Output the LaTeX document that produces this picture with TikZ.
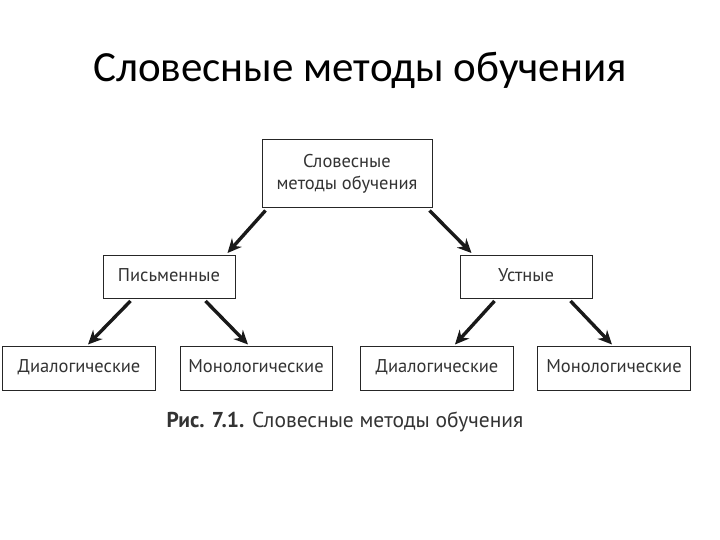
\documentclass[tikz,border=0pt]{standalone}
\usepackage{fontspec}
\setmainfont{Carlito}
\newfontfamily\boxfont{PT Sans}
\usetikzlibrary{arrows.meta,calc}
\begin{document}
\begin{tikzpicture}[x=1pt,y=-1pt,
  box/.style={draw=black!85,line width=1pt,fill=white,inner sep=0pt,font=\boxfont\fontsize{18.5}{22}\selectfont,text=black!80,align=center,text height=13pt,text depth=4pt},
  arr/.style={line width=3.4pt,-{Stealth[length=14pt,width=13pt]},black!90}]
\useasboundingbox (0,0) rectangle (720,540);
\node[font=\fontsize{43}{48}\selectfont] (title) at (360,70) {Словесные методы обучения};
\node[box,minimum width=170pt,minimum height=68pt,text height=,text depth=] (top) at (347,174) {Словесные\\методы обучения};
\node[box,minimum width=132pt,minimum height=43pt] (pis) at (169,277) {Письменные};
\node[box,minimum width=132pt,minimum height=43pt] (ust) at (526,277) {Устные};
\node[box,minimum width=153pt,minimum height=44pt] (d1) at (79,368) {Диалогические};
\node[box,minimum width=152pt,minimum height=44pt] (m1) at (256,368) {Монологические};
\node[box,minimum width=153pt,minimum height=44pt] (d2) at (437,368) {Диалогические};
\node[box,minimum width=153pt,minimum height=44pt] (m2) at (614,368) {Монологические};
\node[font=\boxfont\fontsize{21.5}{24}\selectfont,text=black!80] (cap) at (345,422) {\textbf{Рис. 7.1.} Словесные методы обучения};
\draw[arr] ($(top.south west)+(4,2)$) -- ($(pis.north east)+(-8,-2)$);
\draw[arr] ($(top.south east)+(-3,2)$) -- ($(ust.north west)+(12,-2)$);
\draw[arr] ($(pis.south west)+(28,2)$) -- ($(d1.north)+(9,-1)$);
\draw[arr] ($(pis.south east)+(-30,2)$) -- ($(m1.north)+(-8,-1)$);
\draw[arr] ($(ust.south west)+(35,2)$) -- ($(d2.north)+(18,-1)$);
\draw[arr] ($(ust.south east)+(-22,2)$) -- ($(m2.north)+(-2,-1)$);
\end{tikzpicture}
\end{document}
